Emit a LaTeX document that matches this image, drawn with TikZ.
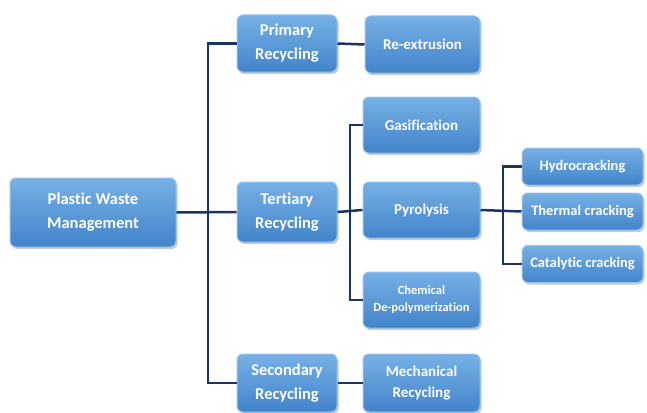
\documentclass[tikz,border=0pt]{standalone}
\usepackage{fontspec}
\setmainfont[Ligatures=NoCommon]{Carlito}
\usetikzlibrary{shadows}
\definecolor{boxtop}{RGB}{118,176,230}
\definecolor{boxbot}{RGB}{66,132,202}
\definecolor{boxedge}{RGB}{150,196,238}
\definecolor{linkc}{RGB}{28,52,100}
\tikzset{
  box/.style={rounded corners=6pt, top color=boxtop, bottom color=boxbot,
    draw=boxedge, line width=1pt, text=white, align=center,
    font=\bfseries\fontsize{16.5}{24}\selectfont, inner sep=0pt,
    drop shadow={shadow xshift=1.5pt, shadow yshift=-2pt, opacity=0.35, fill=black!60}},
  midbox/.style={box, font=\bfseries\fontsize{15}{21}\selectfont},
  smallbox/.style={box, font=\bfseries\fontsize{12.5}{17}\selectfont},
  rbox/.style={box, font=\bfseries\fontsize{14.5}{18}\selectfont},
  link/.style={draw=linkc, line width=2.5pt}
}
\begin{document}
\begin{tikzpicture}[x=1pt,y=-1pt]
\useasboundingbox (0,0) rectangle (647,412);
\node[box, minimum width=166pt, minimum height=69pt] (pwm) at (93,212.5) {Plastic Waste\\Management};
\node[box, minimum width=100pt, minimum height=57pt] (pri) at (287,43.5) {Primary\\Recycling};
\node[box, minimum width=100pt, minimum height=60pt] (ter) at (287,212) {Tertiary\\Recycling};
\node[box, minimum width=100pt, minimum height=58pt] (sec) at (287,383) {Secondary\\Recycling};
\node[midbox, minimum width=115pt, minimum height=57pt] (rex) at (422.5,44.5) {Re-extrusion};
\node[midbox, minimum width=117pt, minimum height=58pt] (mec) at (421.5,383) {Mechanical\\Recycling};
\node[midbox, minimum width=117pt, minimum height=56pt] (gas) at (421.5,125) {Gasification};
\node[midbox, minimum width=117pt, minimum height=56pt] (pyr) at (421.5,210) {Pyrolysis};
\node[smallbox, minimum width=117pt, minimum height=56pt] (che) at (421.5,300) {Chemical\\De-polymerization};
\node[rbox, minimum width=121pt, minimum height=37pt] (hyd) at (582.5,166.5) {Hydrocracking};
\node[rbox, minimum width=121pt, minimum height=37pt] (the) at (582.5,211.5) {Thermal cracking};
\node[rbox, minimum width=121pt, minimum height=37pt] (cat) at (582.5,264) {Catalytic cracking};
\coordinate (b1) at (208,0);
\coordinate (b2) at (350,0);
\coordinate (b3) at (503,0);
\draw[link] (pwm.east) -- (ter.west);
\draw[link] (pri.west) -| (b1 |- sec.west) -- (sec.west);
\draw[link] (pri.east) -- (rex.west);
\draw[link] (sec.east) -- (mec.west);
\draw[link] (ter.east) -- (pyr.west);
\draw[link] (gas.west) -| (b2 |- che.west) -- (che.west);
\draw[link] (pyr.east) -- (the.west);
\draw[link] (hyd.west) -| (b3 |- cat.west) -- (cat.west);
\end{tikzpicture}
\end{document}
